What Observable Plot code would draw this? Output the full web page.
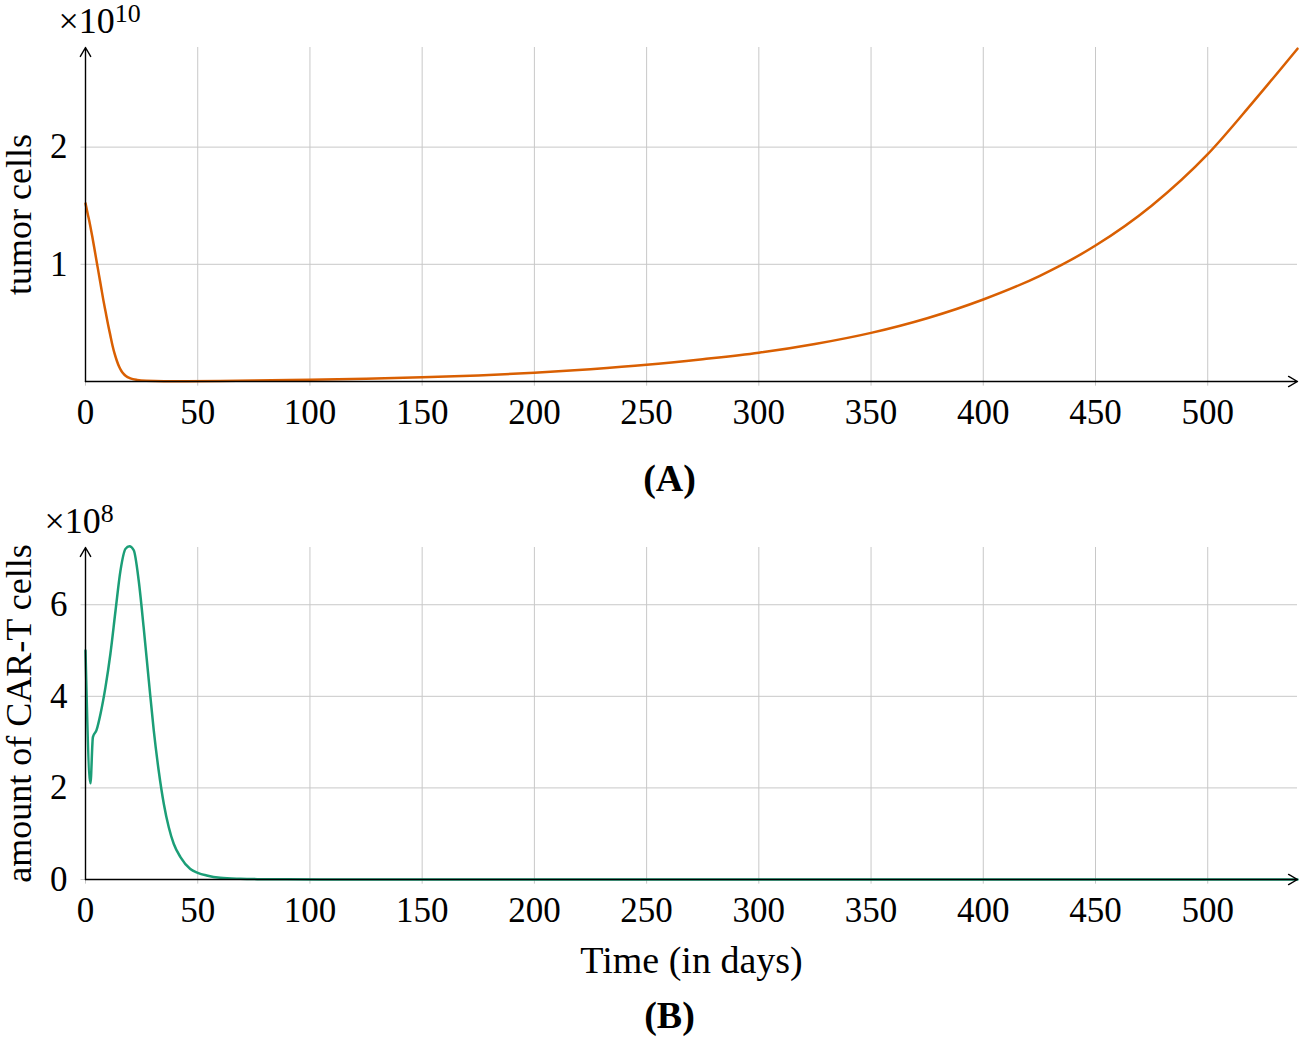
<!DOCTYPE html>
<html>
<head>
<meta charset="utf-8">
<script src="https://cdn.jsdelivr.net/npm/d3@7"></script>
<script src="https://cdn.jsdelivr.net/npm/@observablehq/plot@0.6"></script>
<style>
  html, body { margin: 0; padding: 0; background: white; }
  svg { display: block; }
</style>
</head>
<body>
<div id="chart"></div>
<script>
// ---------- data ----------
const xTicks = [0, 50, 100, 150, 200, 250, 300, 350, 400, 450, 500];

// Panel A: tumor cells (x 1e10)
const tumorDays = [0, 1, 2, 3, 4, 5, 6, 7, 8, 9, 10, 11, 12, 13, 14, 15, 16, 17, 18, 20, 23, 27, 35, 45, 60, 75, 100, 125, 150, 175, 200, 225, 250, 275, 300, 325, 350, 375, 400, 425, 450, 475, 500, 520, 540];
const tumorVals = [1.52, 1.43, 1.34, 1.24, 1.13, 1.02, 0.91, 0.80, 0.69, 0.59, 0.49, 0.40, 0.31, 0.235, 0.175, 0.125, 0.09, 0.065, 0.047, 0.027, 0.013, 0.006, 0.003, 0.003, 0.005, 0.008, 0.015, 0.024, 0.036, 0.052, 0.075, 0.105, 0.142, 0.19, 0.245, 0.32, 0.415, 0.54, 0.70, 0.90, 1.16, 1.50, 1.94, 2.38, 2.84];
const tumorYTicks = [1, 2];

// Panel B: CAR-T cells (x 1e8)
const cartDays = [0, 2.2, 3.3, 4.9, 6.7, 8.9, 11.1, 13.4, 15.6, 17.8, 19.6, 21.5, 23.7, 25.9, 28.2, 30.4, 32.6, 34.9, 37.1, 39.3, 42.3, 46.7, 50, 54, 60, 69, 78, 90, 120, 200, 300, 400, 540];
const cartVals = [5.0, 2.1, 3.11, 3.26, 3.62, 4.2, 4.93, 5.88, 6.75, 7.22, 7.28, 7.19, 6.53, 5.51, 4.35, 3.26, 2.38, 1.65, 1.14, 0.78, 0.49, 0.23, 0.146, 0.087, 0.036, 0.015, 0.007, 0.003, 0.001, 0, 0, 0, 0];
const cartYTicks = [0, 2, 4, 6];

const tumor = tumorDays.map((d, i) => ({day: d, value: tumorVals[i]}));
const cart = cartDays.map((d, i) => ({day: d, value: cartVals[i]}));

const orange = "#D95F02";
const green = "#1B9E77";
const grid = "#c8c8c8";
const font = "'Liberation Serif', 'DejaVu Serif', serif";

function panel({data, color, yMax, yTicks, height, marginBottom, ylabel, magSup, magDx, caption, captionDy, xlabel}) {
  const tickExtY = yMax * 0.014;
  const marks = [
    Plot.ruleX(xTicks.filter(d => d > 0), {y1: -tickExtY, y2: yMax, stroke: grid, strokeWidth: 1}),
    Plot.ruleX([0], {y1: -tickExtY, y2: 0, stroke: grid, strokeWidth: 1}),
    Plot.ruleY(yTicks.filter(d => d > 0), {x1: -2, x2: 540, stroke: grid, strokeWidth: 1}),
    Plot.ruleY([0].filter(() => yTicks.includes(0)), {x1: -2, x2: 0, stroke: grid, strokeWidth: 1}),
    Plot.axisX({ticks: xTicks, tickSize: 0, tickPadding: 18, label: null, tickFormat: d => d, fontSize: 35}),
    Plot.axisY({ticks: yTicks, tickSize: 0, tickPadding: 18, label: null, tickFormat: d => d, fontSize: 35}),
    Plot.line(data, {x: "day", y: "value", stroke: color, strokeWidth: 2.5, curve: "monotone-x"}),
    Plot.arrow([0], {x1: 0, y1: 0, x2: 540, y2: 0, stroke: "black", strokeWidth: 1.4, headLength: 11}),
    Plot.arrow([0], {x1: 0, y1: 0, x2: 0, y2: yMax, stroke: "black", strokeWidth: 1.4, headLength: 11}),
    Plot.text([ylabel], {frameAnchor: "left", textAnchor: "middle", rotate: -90, dx: -66, fontSize: 36, lineAnchor: "middle"}),
    Plot.text(["×10"], {frameAnchor: "top-left", textAnchor: "start", dx: magDx, dy: -26, fontSize: 36, lineAnchor: "middle", className: "mag"}),
    Plot.text([caption], {frameAnchor: "bottom", dx: -22, dy: captionDy, fontSize: 38, fontWeight: "bold", lineAnchor: "middle"})
  ];
  if (xlabel) {
    marks.push(Plot.text([xlabel], {frameAnchor: "bottom", dy: 81, fontSize: 38, lineAnchor: "middle"}));
  }
  const svg = Plot.plot({
    width: 1299,
    height,
    marginLeft: 85,
    marginRight: 2,
    marginTop: 47,
    marginBottom,
    x: {domain: [0, 540]},
    y: {domain: [0, yMax]},
    style: {fontFamily: font, fontSize: "35px", background: "white", color: "black", overflow: "visible"},
    marks
  });
  d3.select(svg).selectAll("g.mag text")
    .append("tspan")
    .attr("dy", "-0.42em")
    .attr("font-size", "0.72em")
    .text(magSup);
  return svg;
}

const root = document.getElementById("chart");
root.appendChild(panel({
  data: tumor, color: orange, yMax: 2.85, yTicks: tumorYTicks,
  height: 500, marginBottom: 119, ylabel: "tumor cells", magSup: "10", magDx: -27,
  caption: "(A)", captionDy: 97
}));
root.appendChild(panel({
  data: cart, color: green, yMax: 7.25, yTicks: cartYTicks,
  height: 541, marginBottom: 162, ylabel: "amount of CAR-T cells", magSup: "8", magDx: -41,
  caption: "(B)", captionDy: 136, xlabel: "Time (in days)"
}));
</script>
</body>
</html>
